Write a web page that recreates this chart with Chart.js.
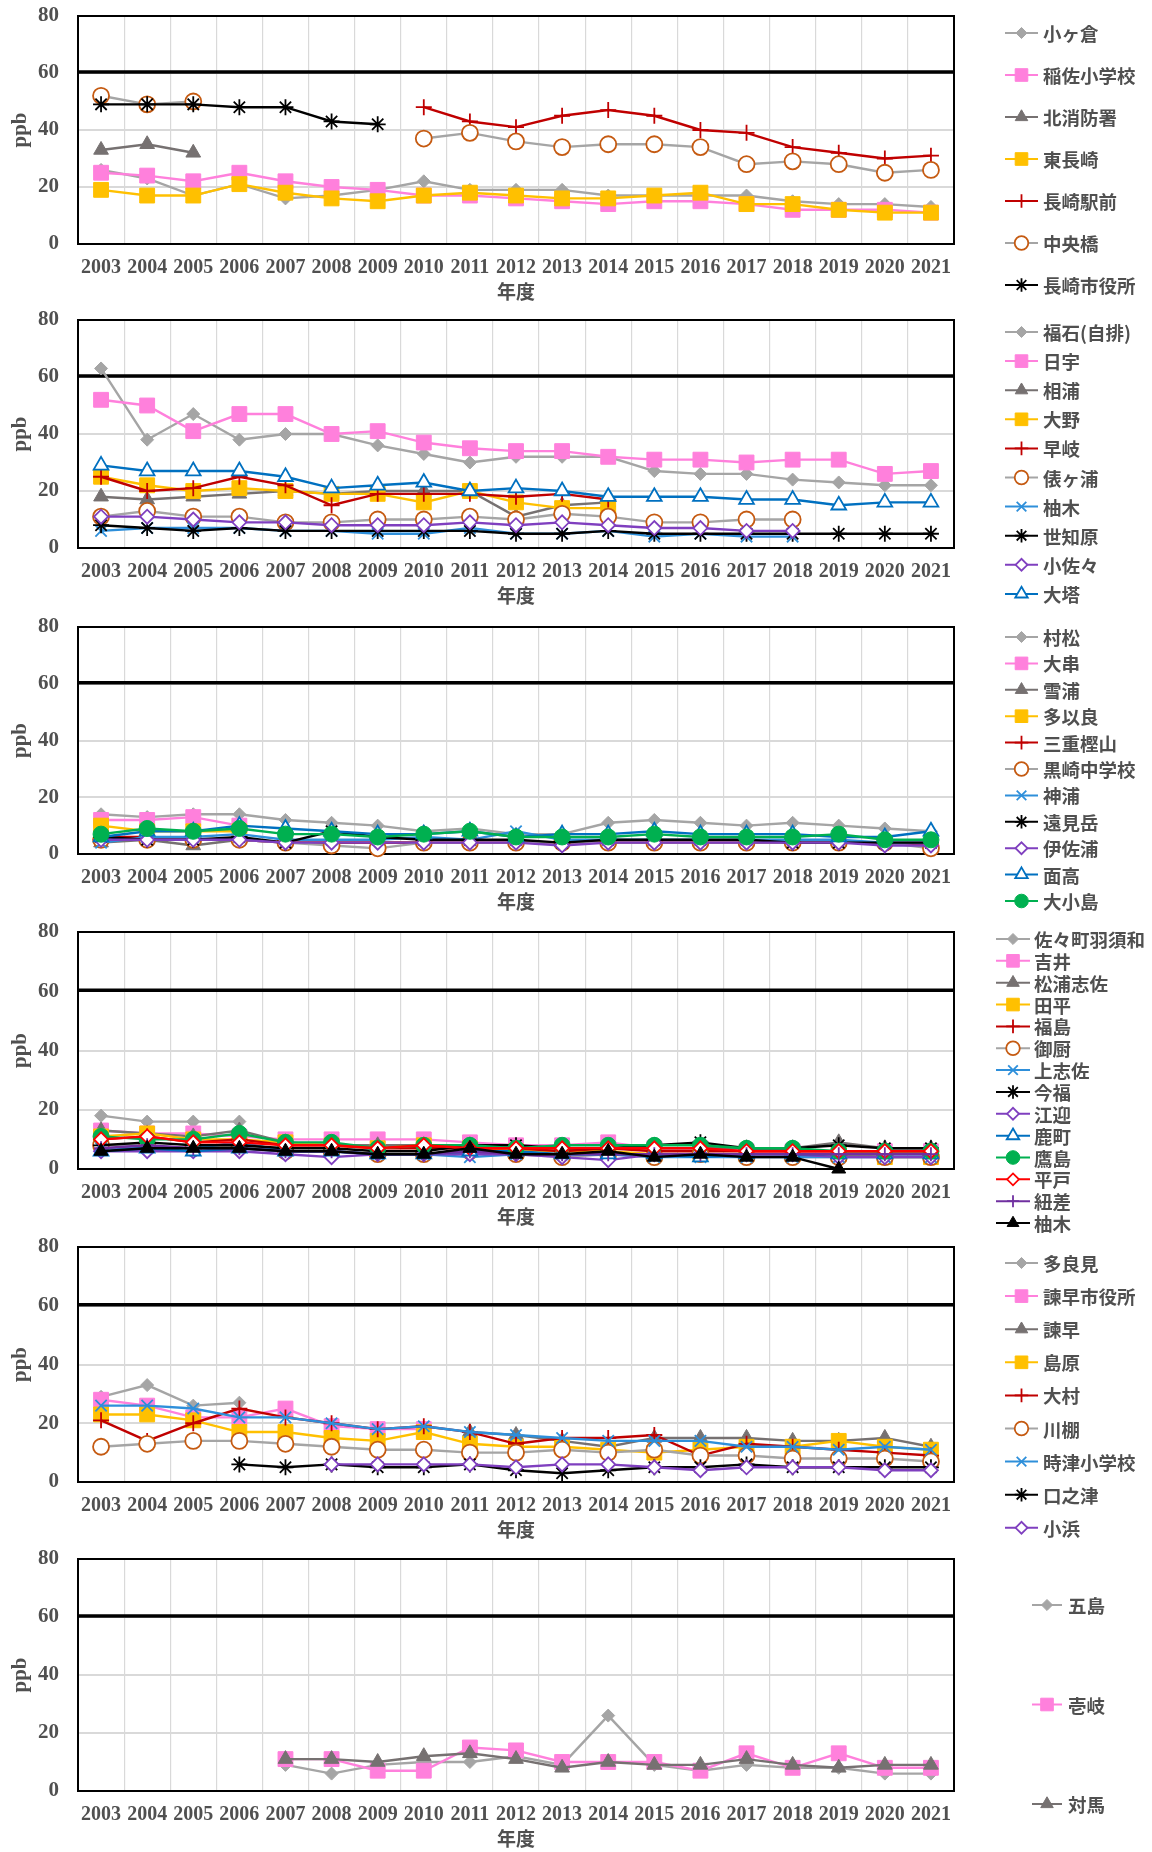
<!DOCTYPE html>
<html lang="ja">
<head>
<meta charset="utf-8">
<title>二酸化窒素 年平均値の推移</title>
<script src="https://cdn.jsdelivr.net/npm/chart.js@4.4.1/dist/chart.umd.min.js"></script>
<style>
  body { margin: 0; background: #fff; width: 1152px; height: 1852px; overflow: hidden; position: relative; }
  .panel { position: absolute; left: 0; width: 1152px; }
  .panel canvas { display: block; }
</style>
</head>
<body>
<div class="panel" id="panel1"><canvas id="chart1"></canvas></div>
<div class="panel" id="panel2"><canvas id="chart2"></canvas></div>
<div class="panel" id="panel3"><canvas id="chart3"></canvas></div>
<div class="panel" id="panel4"><canvas id="chart4"></canvas></div>
<div class="panel" id="panel5"><canvas id="chart5"></canvas></div>
<div class="panel" id="panel6"><canvas id="chart6"></canvas></div>
<script>
// 年度
const years = ['2003', '2004', '2005', '2006', '2007', '2008', '2009', '2010', '2011', '2012',
               '2013', '2014', '2015', '2016', '2017', '2018', '2019', '2020', '2021'];
const yTicks = [0, 20, 40, 60, 80];
const standardValue = 60; // 環境基準 (ppb)
const _ = null;

// 長崎市
const p1Stations = ['小ヶ倉', '稲佐小学校', '北消防署', '東長崎', '長崎駅前', '中央橋', '長崎市役所'];
const p1Values = [
  [26, 23, 17, 21, 16, 17, 19, 22, 19, 19, 19, 17, 17, 17, 17, 15, 14, 14, 13],
  [25, 24, 22, 25, 22, 20, 19, 17, 17, 16, 15, 14, 15, 15, 14, 12, 12, 12, 11],
  [33, 35, 32, _, _, _, _, _, _, _, _, _, _, _, _, _, _, _, _],
  [19, 17, 17, 21, 18, 16, 15, 17, 18, 17, 16, 16, 17, 18, 14, 14, 12, 11, 11],
  [_, _, _, _, _, _, _, 48, 43, 41, 45, 47, 45, 40, 39, 34, 32, 30, 31],
  [52, 49, 50, _, _, _, _, 37, 39, 36, 34, 35, 35, 34, 28, 29, 28, 25, 26],
  [49, 49, 49, 48, 48, 43, 42, _, _, _, _, _, _, _, _, _, _, _, _]
];

// 佐世保市
const p2Stations = ['福石(自排)', '日宇', '相浦', '大野', '早岐', '俵ヶ浦', '柚木', '世知原', '小佐々', '大塔'];
const p2Values = [
  [63, 38, 47, 38, 40, 40, 36, 33, 30, 32, 32, 32, 27, 26, 26, 24, 23, 22, 22],
  [52, 50, 41, 47, 47, 40, 41, 37, 35, 34, 34, 32, 31, 31, 30, 31, 31, 26, 27],
  [18, 17, 18, 19, 20, 19, 20, 20, 20, 11, 15, 16, _, _, _, _, _, _, _],
  [25, 22, 20, 21, 20, 19, 19, 16, 20, 16, 14, 14, _, _, _, _, _, _, _],
  [25, 20, 21, 25, 22, 15, 19, 19, 19, 18, 19, 17, _, _, _, _, _, _, _],
  [11, 13, 11, 11, 9, 9, 10, 10, 11, 10, 12, 11, 9, 9, 10, 10, _, _, _],
  [6, 7, 7, 7, 6, 6, 5, 5, 7, 5, 5, 6, 4, 5, 4, 4, _, _, _],
  [8, 7, 6, 7, 6, 6, 6, 6, 6, 5, 5, 6, 5, 5, 5, 5, 5, 5, 5],
  [11, 11, 10, 9, 9, 8, 8, 8, 9, 8, 9, 8, 7, 7, 6, 6, _, _, _],
  [29, 27, 27, 27, 25, 21, 22, 23, 20, 21, 20, 18, 18, 18, 17, 17, 15, 16, 16]
];

// 西海・大村湾周辺
const p3Stations = ['村松', '大串', '雪浦', '多以良', '三重樫山', '黒崎中学校', '神浦', '遠見岳', '伊佐浦', '面高', '大小島'];
const p3Values = [
  [14, 13, 14, 14, 12, 11, 10, 8, 9, 7, 7, 11, 12, 11, 10, 11, 10, 9, 8],
  [12, 12, 13, 10, _, _, _, _, _, _, _, _, _, _, _, _, _, _, _],
  [4, 5, 3, 5, 4, 4, 4, 4, 4, 4, 4, 4, 4, 4, 4, 4, 4, 4, 4],
  [10, 8, 8, 8, _, _, _, _, _, _, _, _, _, _, _, _, _, _, _],
  [6, 6, 5, 5, 4, 4, 4, 4, 4, 4, 4, 4, 4, 4, 4, 4, 4, 4, 3],
  [5, 5, 5, 5, 4, 3, 2, 4, 4, 4, 4, 4, 4, 4, 4, 4, 4, 4, 2],
  [4, 6, 6, 7, 5, 5, 5, 6, 5, 8, 5, 5, 5, 5, 5, 5, 5, 4, 4],
  [6, 5, 5, 6, 4, 8, 6, 5, 5, 5, 4, 5, 5, 5, 5, 4, 4, 4, 4],
  [5, 5, 5, 5, 4, 4, 4, 4, 4, 4, 3, 4, 4, 4, 4, 4, 4, 3, 3],
  [6, 8, 8, 10, 9, 8, 7, 7, 8, 6, 7, 7, 8, 7, 7, 7, 6, 6, 8],
  [7, 9, 8, 9, 7, 7, 6, 7, 8, 6, 6, 6, 7, 6, 6, 6, 7, 5, 5]
];

// 県北
const p4Stations = ['佐々町羽須和', '吉井', '松浦志佐', '田平', '福島', '御厨', '上志佐', '今福', '江迎', '鹿町', '鷹島', '平戸', '紐差', '柚木'];
const p4Values = [
  [18, 16, 16, 16, _, _, _, _, _, _, _, _, _, _, _, _, _, _, _],
  [13, 12, 12, 11, 10, 10, 10, 10, 9, 8, 8, 9, 7, 7, 6, 6, 6, 6, 6],
  [13, 12, 11, 13, 9, 8, 8, 8, 8, 7, 7, 7, 7, 7, 7, 7, 9, 7, 7],
  [11, 12, 10, 10, 9, 8, 7, 8, 7, 6, 6, 6, 5, 5, 5, 5, 5, 4, 4],
  [10, 11, 9, 10, 8, 8, 7, 7, 7, 7, 6, 7, 6, 6, 6, 6, 6, 6, 6],
  [8, 8, 7, 8, 6, 6, 5, 5, 6, 5, 4, 5, 4, 5, 4, 4, 4, 4, 4],
  [7, 7, 7, 9, 6, 6, 5, 5, 4, 5, 5, 5, 4, 4, 4, 4, 4, 4, 4],
  [8, 9, 8, 8, 7, 7, 6, 6, 8, 8, 7, 7, 8, 9, 7, 7, 8, 7, 7],
  [6, 6, 6, 6, 5, 4, 5, 5, 5, 5, 4, 3, 5, 5, 5, 5, 4, 4, 4],
  [6, 7, 6, 7, 6, 6, 5, 5, 6, 6, 5, 5, 5, 4, 5, 5, 5, 5, 5],
  [11, 10, 10, 12, 9, 9, 7, 8, 8, 7, 8, 8, 8, 8, 7, 7, 6, 6, 6],
  [10, 11, 9, 9, 8, 8, 7, 8, 7, 7, 7, 7, 7, 7, 6, 6, 6, 6, 6],
  [7, 8, 7, 7, 6, 6, 5, 5, 6, 5, 5, 5, 5, 5, 5, 5, 5, 5, 5],
  [6, 7, 7, 7, 6, 6, 5, 5, 7, 5, 5, 6, 4, 5, 4, 4, 0, _, _]
];

// 県央・島原
const p5Stations = ['多良見', '諫早市役所', '諫早', '島原', '大村', '川棚', '時津小学校', '口之津', '小浜'];
const p5Values = [
  [29, 33, 26, 27, _, _, _, _, _, _, _, _, _, _, _, _, _, _, _],
  [28, 26, 22, 22, 25, 19, 18, 18, _, _, _, _, _, _, _, _, _, _, _],
  [_, _, _, _, _, _, _, _, 17, 16, 14, 12, 15, 15, 15, 14, 14, 15, 12],
  [23, 23, 21, 17, 17, 15, 14, 17, 13, 12, 12, 11, 10, 11, 12, 12, 14, 12, 11],
  [21, 14, 20, 25, 22, 20, 18, 19, 17, 13, 15, 15, 16, 9, 13, 12, 11, 10, 9],
  [12, 13, 14, 14, 13, 12, 11, 11, 10, 10, 11, 10, 11, 9, 9, 8, 8, 8, 7],
  [26, 26, 25, 22, 22, 20, 18, 19, 17, 16, 15, 14, 14, 14, 12, 12, 11, 12, 11],
  [_, _, _, 6, 5, 6, 5, 5, 6, 4, 3, 4, 5, 5, 6, 5, 5, 5, 5],
  [_, _, _, _, _, 6, 6, 6, 6, 5, 6, 6, 5, 4, 5, 5, 5, 4, 4]
];

// 離島
const p6Stations = ['五島', '壱岐', '対馬'];
const p6Values = [
  [_, _, _, _, 9, 6, 9, 10, 10, 12, 9, 26, 9, 7, 9, 8, 8, 6, 6],
  [_, _, _, _, 11, 11, 7, 7, 15, 14, 10, 10, 10, 7, 13, 8, 13, 8, 8],
  [_, _, _, _, 11, 11, 10, 12, 13, 11, 8, 10, 9, 9, 11, 9, 8, 9, 9]
];

// 系列の線とマーカー
const markerStyles = {
  grayDiamond:   { line: '#A5A5A5', shape: 'rectRot',  radius: 6.5, fill: '#A5A5A5', edge: '#A5A5A5', edgeWidth: 1 },
  pinkSquare:    { line: '#FF80DC', shape: 'rect',     radius: 10.5, fill: '#FF80DC', edge: '#FF80DC', edgeWidth: 1 },
  grayTriangle:  { line: '#767171', shape: 'triangle', radius: 8.5, fill: '#767171', edge: '#767171', edgeWidth: 1 },
  yellowSquare:  { line: '#FFC000', shape: 'rect',     radius: 10.5, fill: '#FFC000', edge: '#FFC000', edgeWidth: 1 },
  redCross:      { line: '#C00000', shape: 'cross',    radius: 8,   fill: '#C00000', edge: '#C00000', edgeWidth: 1.8 },
  brownCircle:   { line: '#A5A5A5', shape: 'circle',   radius: 8,   fill: '#FFFFFF', edge: '#C55A11', edgeWidth: 1.8 },
  blueX:         { line: '#2E8FDA', shape: 'crossRot', radius: 8,   fill: '#2E8FDA', edge: '#2E8FDA', edgeWidth: 1.8 },
  blackStar:     { line: '#000000', shape: 'star',     radius: 8,   fill: '#000000', edge: '#000000', edgeWidth: 1.8 },
  purpleDiamond: { line: '#7F3FBF', shape: 'rectRot',  radius: 7,   fill: '#FFFFFF', edge: '#7F3FBF', edgeWidth: 1.8 },
  blueTriangle:  { line: '#0070C0', shape: 'triangle', radius: 8.5, fill: '#FFFFFF', edge: '#0070C0', edgeWidth: 1.8 },
  greenCircle:   { line: '#00B050', shape: 'circle',   radius: 8,   fill: '#00B050', edge: '#00B050', edgeWidth: 1 },
  redDiamond:    { line: '#FF0000', shape: 'rectRot',  radius: 7,   fill: '#FFFFFF', edge: '#FF0000', edgeWidth: 1.8 },
  purpleCross:   { line: '#7030A0', shape: 'cross',    radius: 7,   fill: '#7030A0', edge: '#7030A0', edgeWidth: 1.8 },
  blackTriangle: { line: '#000000', shape: 'triangle', radius: 8,   fill: '#000000', edge: '#000000', edgeWidth: 1 }
};
const styleOrder = ['grayDiamond', 'pinkSquare', 'grayTriangle', 'yellowSquare', 'redCross', 'brownCircle', 'blueX',
                    'blackStar', 'purpleDiamond', 'blueTriangle', 'greenCircle', 'redDiamond', 'purpleCross', 'blackTriangle'];

const SERIF = '"Liberation Serif", "DejaVu Serif", serif';
const GOTHIC = '"Noto Sans CJK JP", "Noto Sans", sans-serif';
const TEXT_COLOR = '#505050';

// パネルごとの配置 (px)
const panels = [
  { id: 'chart1', stations: p1Stations, values: p1Values,
    styles: styleOrder.slice(0, 6).concat(['blackStar']),
    plotTop: 16, plotHeight: 228, padBottom: 0,
    legend: { lineX0: 1005, lineX1: 1038, textX: 1043, y0: 33, dy: 42 } },
  { id: 'chart2', stations: p2Stations, values: p2Values, styles: styleOrder.slice(0, 10),
    plotTop: 320, plotHeight: 228, padBottom: 0,
    legend: { lineX0: 1005, lineX1: 1038, textX: 1043, y0: 332, dy: 29.1 } },
  { id: 'chart3', stations: p3Stations, values: p3Values, styles: styleOrder.slice(0, 11),
    plotTop: 627, plotHeight: 227, padBottom: 0,
    legend: { lineX0: 1005, lineX1: 1038, textX: 1043, y0: 637, dy: 26.4 } },
  { id: 'chart4', stations: p4Stations, values: p4Values, styles: styleOrder.slice(0, 14),
    plotTop: 932, plotHeight: 237, padBottom: 10,
    legend: { lineX0: 996, lineX1: 1030, textX: 1034, y0: 939, dy: 21.85 } },
  { id: 'chart5', stations: p5Stations, values: p5Values, styles: styleOrder.slice(0, 9),
    plotTop: 1247, plotHeight: 235, padBottom: 0,
    legend: { lineX0: 1005, lineX1: 1038, textX: 1043, y0: 1263, dy: 33.1 } },
  { id: 'chart6', stations: p6Stations, values: p6Values, styles: styleOrder.slice(0, 3),
    plotTop: 1559, plotHeight: 232, padBottom: 0,
    legend: { lineX0: 1032, lineX1: 1062, textX: 1068, y0: 1605, dy: 99.5 } }
];

const PAD_TOP = 16;
const X_AXIS_HEIGHT = 62;
const Y_AXIS_WIDTH = 78;
const PLOT_RIGHT = 954;

// 枠線と環境基準線
const framePlugin = {
  id: 'frame',
  beforeDatasetsDraw(chart) {
    const { ctx, chartArea: a } = chart;
    const y60 = chart.scales.y.getPixelForValue(standardValue) - 1;
    ctx.save();
    ctx.strokeStyle = '#000';
    ctx.lineWidth = 3.5;
    ctx.beginPath();
    ctx.moveTo(a.left, y60);
    ctx.lineTo(a.right, y60);
    ctx.stroke();
    ctx.lineWidth = 2;
    ctx.strokeRect(a.left, a.top, a.right - a.left, a.bottom - a.top);
    ctx.restore();
  }
};

// 右側の凡例
const sideLegendPlugin = {
  id: 'sideLegend',
  afterDraw(chart, args, opts) {
    const ctx = chart.ctx;
    const lg = opts.layout;
    chart.data.datasets.forEach((ds, i) => {
      const y = lg.y0 - opts.offsetTop + i * lg.dy;
      ctx.save();
      ctx.strokeStyle = ds.borderColor;
      ctx.lineWidth = 2;
      ctx.beginPath();
      ctx.moveTo(lg.lineX0, y);
      ctx.lineTo(lg.lineX1, y);
      ctx.stroke();
      ctx.fillStyle = ds.pointBackgroundColor;
      ctx.strokeStyle = ds.pointBorderColor;
      ctx.lineWidth = ds.pointBorderWidth;
      if (Chart.helpers && Chart.helpers.drawPoint) {
        Chart.helpers.drawPoint(ctx, {
          pointStyle: ds.pointStyle,
          radius: ds.pointRadius * 0.85,
          borderWidth: ds.pointBorderWidth,
          rotation: 0
        }, (lg.lineX0 + lg.lineX1) / 2, y);
      }
      ctx.fillStyle = TEXT_COLOR;
      ctx.font = 'bold 18.5px ' + GOTHIC;
      ctx.textBaseline = 'middle';
      ctx.textAlign = 'left';
      ctx.fillText(ds.label, lg.textX, y + 1);
      ctx.restore();
    });
  }
};

function makeDatasets(stations, values, styles) {
  return stations.map((name, i) => {
    const st = markerStyles[styles[i]];
    return {
      label: name,
      data: values[i],
      borderColor: st.line,
      backgroundColor: st.fill,
      borderWidth: 2.4,
      pointStyle: st.shape,
      pointRadius: st.radius,
      pointBackgroundColor: st.fill,
      pointBorderColor: st.edge,
      pointBorderWidth: st.edgeWidth,
      tension: 0,
      spanGaps: false,
      clip: false,
      order: -i
    };
  });
}

panels.forEach(p => {
  const canvasTop = p.plotTop - PAD_TOP;
  const canvasHeight = PAD_TOP + p.plotHeight + X_AXIS_HEIGHT + p.padBottom;
  const holder = document.getElementById(p.id).parentNode;
  holder.style.top = canvasTop + 'px';
  const canvas = document.getElementById(p.id);
  canvas.width = 1152;
  canvas.height = canvasHeight;

  new Chart(canvas.getContext('2d'), {
    type: 'line',
    data: {
      labels: years,
      datasets: makeDatasets(p.stations, p.values, p.styles)
    },
    plugins: [framePlugin, sideLegendPlugin],
    options: {
      responsive: false,
      animation: false,
      events: [],
      layout: { autoPadding: false, padding: { top: PAD_TOP, left: 0, right: 1152 - PLOT_RIGHT, bottom: p.padBottom } },
      plugins: {
        legend: { display: false },
        tooltip: { enabled: false },
        sideLegend: { layout: p.legend, offsetTop: canvasTop }
      },
      scales: {
        x: {
          type: 'category',
          offset: true,
          grid: { offset: true, color: '#D9D9D9', lineWidth: 1.2, drawTicks: false },
          border: { color: '#000', width: 2 },
          ticks: {
            autoSkip: false, maxRotation: 0, minRotation: 0, padding: 12,
            color: TEXT_COLOR, font: { family: SERIF, size: 20, weight: 'bold' }
          },
          title: {
            display: true, text: '年度', color: TEXT_COLOR,
            font: { family: GOTHIC, size: 19, weight: 'bold' },
            padding: { top: 0, bottom: 3 }
          },
          afterFit(scale) { scale.height = X_AXIS_HEIGHT; }
        },
        y: {
          min: yTicks[0],
          max: yTicks[yTicks.length - 1],
          afterBuildTicks(scale) { scale.ticks = yTicks.map(v => ({ value: v })); },
          // 目盛り線は透明にして、ラベルと軸の間隔だけに使う
          grid: { color: '#D9D9D9', lineWidth: 2, drawTicks: true, tickLength: 17, tickColor: 'rgba(0,0,0,0)' },
          border: { color: '#000', width: 2 },
          ticks: {
            padding: 2, color: TEXT_COLOR,
            font: { family: SERIF, size: 21, weight: 'bold' }
          },
          title: {
            display: true, text: 'ppb', color: TEXT_COLOR,
            font: { family: SERIF, size: 21, weight: 'bold' },
            padding: { top: 8, bottom: 0 }
          },
          afterFit(scale) { scale.width = Y_AXIS_WIDTH; }
        }
      }
    }
  });
});
</script>
</body>
</html>
